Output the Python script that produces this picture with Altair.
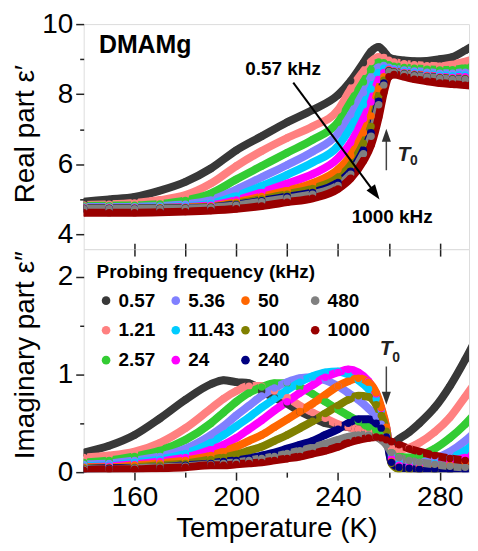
import altair as alt
import pandas as pd

FONT = "Liberation Sans"

# ---------------- data ----------------
FREQS = ["0.57", "1.21", "2.57", "5.36", "11.43", "24", "50", "100", "240", "480", "1000"]
COLORS = ["#383838", "#ff8080", "#33cc33", "#8080ff", "#00ccff", "#ff00ff",
          "#ff6600", "#808000", "#000080", "#808080", "#990000"]

T_REAL = [140, 150, 160, 170, 180, 190, 200, 210, 220, 230, 240, 245, 250, 253, 256,
          258, 260, 262, 266, 270, 275, 280, 285, 290, 295]

REAL_057 = [4.93, 5.00, 5.07, 5.25, 5.50, 5.88, 6.40, 6.80, 7.20, 7.55, 7.98, 8.38, 8.90, 9.22, 9.35,
            9.22, 9.05, 9.00, 8.96, 8.94, 8.95, 9.00, 9.06, 9.25, 9.46]
REAL_121 = [4.84, 4.86, 4.90, 4.98, 5.12, 5.45, 5.95, 6.38, 6.75, 7.08, 7.55, 8.15, 8.65, 8.93, 9.06,
            9.05, 8.97, 8.92, 8.87, 8.84, 8.81, 8.80, 8.85, 8.93, 9.04]
REAL_257 = [4.81, 4.82, 4.83, 4.87, 4.97, 5.17, 5.57, 5.95, 6.33, 6.70, 7.20, 7.78, 8.35, 8.70, 8.92,
            8.90, 8.84, 8.80, 8.76, 8.74, 8.71, 8.69, 8.70, 8.75, 8.80]
REAL_536 = [4.78, 4.78, 4.79, 4.81, 4.86, 4.98, 5.28, 5.63, 5.98, 6.36, 6.88, 7.42, 8.05, 8.48, 8.78,
            8.82, 8.77, 8.73, 8.69, 8.66, 8.63, 8.60, 8.60, 8.63, 8.66]
REAL_1143 = [4.77, 4.77, 4.77, 4.78, 4.81, 4.88, 5.10, 5.38, 5.70, 6.05, 6.52, 7.05, 7.70, 8.15, 8.62,
             8.74, 8.73, 8.69, 8.65, 8.61, 8.57, 8.54, 8.53, 8.55, 8.56]
REAL_24 = [4.76, 4.76, 4.76, 4.76, 4.78, 4.83, 4.98, 5.20, 5.45, 5.72, 6.17, 6.62, 7.30, 7.78, 8.42,
           8.62, 8.71, 8.67, 8.62, 8.58, 8.54, 8.50, 8.48, 8.50, 8.50]
REAL_50 = [4.75, 4.75, 4.75, 4.76, 4.77, 4.80, 4.92, 5.08, 5.25, 5.46, 5.85, 6.25, 6.90, 7.38, 8.15,
           8.50, 8.69, 8.65, 8.60, 8.56, 8.52, 8.48, 8.45, 8.45, 8.45]
REAL_100 = [4.75, 4.75, 4.75, 4.75, 4.76, 4.78, 4.88, 5.01, 5.15, 5.31, 5.62, 5.98, 6.60, 7.08, 7.95,
            8.40, 8.67, 8.64, 8.59, 8.55, 8.51, 8.47, 8.44, 8.44, 8.44]
REAL_240 = [4.74, 4.74, 4.74, 4.74, 4.75, 4.77, 4.85, 4.96, 5.08, 5.20, 5.48, 5.80, 6.40, 6.90, 7.80,
            8.32, 8.66, 8.63, 8.58, 8.54, 8.50, 8.46, 8.43, 8.43, 8.43]
REAL_480 = [4.73, 4.73, 4.73, 4.73, 4.74, 4.76, 4.83, 4.93, 5.03, 5.15, 5.40, 5.72, 6.30, 6.80, 7.70,
            8.26, 8.65, 8.62, 8.57, 8.53, 8.49, 8.45, 8.42, 8.42, 8.42]
REAL_1000 = [4.62, 4.62, 4.62, 4.63, 4.65, 4.68, 4.73, 4.81, 4.92, 5.03, 5.30, 5.60, 6.10, 6.55, 7.35,
             8.05, 8.50, 8.56, 8.50, 8.43, 8.37, 8.32, 8.29, 8.26, 8.22]

T_IMAG = [140, 150, 160, 170, 180, 190, 195, 200, 205, 210, 215, 220, 225, 230, 235, 240, 244, 248,
          252, 255, 257, 259, 261, 264, 268, 272, 278, 284, 290, 295]

IMAG_057 = [0.20, 0.27, 0.38, 0.55, 0.74, 0.90, 0.94, 0.92, 0.91, 0.83, 0.76, 0.70, 0.62, 0.56, 0.50,
            0.48, 0.46, 0.44, 0.42, 0.40, 0.37, 0.33, 0.29, 0.34, 0.41, 0.50, 0.66, 0.88, 1.15, 1.40]
IMAG_121 = [0.15, 0.17, 0.21, 0.30, 0.45, 0.65, 0.75, 0.83, 0.88, 0.88, 0.83, 0.76, 0.68, 0.61, 0.55,
            0.49, 0.46, 0.44, 0.42, 0.40, 0.37, 0.32, 0.25, 0.23, 0.25, 0.30, 0.41, 0.56, 0.77, 0.95]
IMAG_257 = [0.10, 0.12, 0.16, 0.22, 0.33, 0.50, 0.61, 0.72, 0.81, 0.87, 0.91, 0.91, 0.87, 0.80, 0.72,
            0.64, 0.58, 0.52, 0.46, 0.42, 0.40, 0.33, 0.20, 0.16, 0.15, 0.17, 0.24, 0.35, 0.49, 0.63]
IMAG_536 = [0.08, 0.09, 0.12, 0.16, 0.24, 0.38, 0.47, 0.58, 0.68, 0.78, 0.86, 0.92, 0.96, 0.97, 0.94,
            0.88, 0.81, 0.74, 0.65, 0.57, 0.49, 0.37, 0.18, 0.12, 0.10, 0.10, 0.14, 0.21, 0.32, 0.44]
IMAG_1143 = [0.06, 0.07, 0.10, 0.13, 0.19, 0.30, 0.38, 0.47, 0.56, 0.66, 0.75, 0.84, 0.92, 0.98, 1.02,
             1.03, 1.00, 0.94, 0.85, 0.75, 0.63, 0.45, 0.16, 0.09, 0.07, 0.07, 0.09, 0.14, 0.22, 0.33]
IMAG_24 = [0.05, 0.06, 0.08, 0.11, 0.15, 0.23, 0.28, 0.35, 0.44, 0.53, 0.63, 0.72, 0.81, 0.89, 0.97,
           1.02, 1.05, 1.02, 0.93, 0.80, 0.65, 0.45, 0.14, 0.07, 0.06, 0.06, 0.08, 0.11, 0.15, 0.20]
IMAG_50 = [0.05, 0.05, 0.07, 0.09, 0.12, 0.17, 0.21, 0.26, 0.32, 0.38, 0.46, 0.54, 0.62, 0.70, 0.79,
           0.88, 0.93, 0.96, 0.92, 0.81, 0.66, 0.46, 0.11, 0.05, 0.04, 0.04, 0.05, 0.07, 0.10, 0.13]
IMAG_100 = [0.04, 0.04, 0.05, 0.07, 0.09, 0.13, 0.15, 0.18, 0.22, 0.26, 0.32, 0.38, 0.45, 0.52, 0.60,
            0.68, 0.74, 0.78, 0.77, 0.69, 0.58, 0.42, 0.09, 0.03, 0.02, 0.02, 0.02, 0.03, 0.04, 0.05]
IMAG_240 = [0.03, 0.04, 0.04, 0.05, 0.07, 0.09, 0.11, 0.12, 0.14, 0.17, 0.20, 0.24, 0.28, 0.32, 0.38,
            0.44, 0.50, 0.54, 0.54, 0.50, 0.45, 0.36, 0.10, 0.05, 0.04, 0.03, 0.03, 0.02, 0.02, 0.02]
IMAG_480 = [0.03, 0.03, 0.04, 0.05, 0.06, 0.08, 0.09, 0.10, 0.12, 0.14, 0.16, 0.19, 0.22, 0.25, 0.29,
            0.33, 0.36, 0.38, 0.38, 0.36, 0.33, 0.28, 0.20, 0.15, 0.12, 0.10, 0.08, 0.06, 0.05, 0.05]
IMAG_1000 = [0.02, 0.03, 0.03, 0.04, 0.05, 0.07, 0.07, 0.08, 0.09, 0.10, 0.12, 0.14, 0.16, 0.19, 0.22,
             0.26, 0.30, 0.33, 0.35, 0.36, 0.35, 0.33, 0.31, 0.28, 0.24, 0.21, 0.17, 0.14, 0.12, 0.11]

REAL = [REAL_057, REAL_121, REAL_257, REAL_536, REAL_1143, REAL_24, REAL_50, REAL_100, REAL_240,
        REAL_480, REAL_1000]
IMAG = [IMAG_057, IMAG_121, IMAG_257, IMAG_536, IMAG_1143, IMAG_24, IMAG_50, IMAG_100, IMAG_240,
        IMAG_480, IMAG_1000]


def long_table(ts, series):
    rows = []
    for i, (f, vals) in enumerate(zip(FREQS, series)):
        for t, v in zip(ts, vals):
            rows.append({"T": t, "v": v, "freq": f, "Frequency": f, "k": i})
    return pd.DataFrame(rows)


df_real = long_table(T_REAL, REAL)
df_imag = long_table(T_IMAG, IMAG)

# ---------------- scales ----------------
xs = alt.Scale(domain=[140, 291.5], nice=False, zero=False)
ys_top = alt.Scale(domain=[3.58, 10], nice=False, zero=False)
ys_bot = alt.Scale(domain=[0, 2.28], nice=False, zero=False)
cs = alt.Scale(domain=FREQS, range=COLORS)

TICK = dict(tickColor="#222222", tickWidth=1.5, domain=False, grid=False)
LAB = dict(labelFont=FONT, labelFontSize=28, labelColor="black")
TTL = dict(titleFont=FONT, titleFontSize=28, titleColor="black", titleFontWeight="normal")

W, H1, H2 = 387, 226, 224
ARROW = "M0,-1L0.7,1L-0.7,1Z"


def XN():
    return alt.X("T:Q", scale=xs, axis=None)


# ---------------- top panel ----------------
top_lines = alt.Chart(df_real).mark_line(strokeWidth=8, interpolate="monotone", clip=True,
                                          strokeCap="round").encode(
    x=alt.X("T:Q", scale=xs, axis=alt.Axis(orient="bottom", values=list(range(160, 281, 20)),
                                            labels=False, tickSize=7, title=None, **TICK)),
    y=alt.Y("v:Q", scale=ys_top, axis=alt.Axis(orient="left", values=[4, 6, 8, 10], tickSize=8,
                                                labelPadding=3, labelFlush=False,
                                                title="Real part ε′",
                                                titleX=-50, titleY=110, titleBaseline="alphabetic",
                                                titleAngle=270, titleAlign="center",
                                                **TICK, **LAB, **TTL)),
    stroke=alt.Stroke("freq:N", scale=cs, legend=None),
    detail="k:N",
)
top_pts = alt.Chart(df_real).mark_circle(size=55, opacity=1, clip=True).encode(
    x=XN(),
    y=alt.Y("v:Q", scale=ys_top, axis=alt.Axis(orient="left", values=[5, 7, 9], tickSize=4,
                                                labels=False, title=None, **TICK)),
    fill=alt.Fill("freq:N", scale=cs, legend=None),
)

top_text_df = pd.DataFrame({
    "T": [146, 203.5, 245.4],
    "v": [9.18, 8.56, 4.32],
    "s": ["DMAMg", "0.57 kHz", "1000 kHz"],
    "fs": [25, 19, 19],
})
top_text = alt.Chart(top_text_df).mark_text(font=FONT, fontWeight="bold", align="left",
                                             baseline="alphabetic", color="black").encode(
    x=XN(),
    y=alt.Y("v:Q", scale=ys_top, axis=None),
    text="s:N",
    size=alt.Size("fs:Q", scale=None, legend=None),
)
top_T = alt.Chart(pd.DataFrame({"T": [263.4], "v": [6.08], "s": ["T"]})).mark_text(
    font=FONT, fontWeight="bold", fontStyle="italic", fontSize=21, align="left",
    baseline="alphabetic", color="#222222").encode(
    x=XN(), y=alt.Y("v:Q", scale=ys_top, axis=None), text="s:N")
top_0 = alt.Chart(pd.DataFrame({"T": [268.3], "v": [5.97], "s": ["0"]})).mark_text(
    font=FONT, fontWeight="bold", fontSize=14, align="left", baseline="alphabetic",
    color="#222222").encode(
    x=XN(), y=alt.Y("v:Q", scale=ys_top, axis=None), text="s:N")

diag_line = alt.Chart(pd.DataFrame({"T": [222.4], "v": [8.33], "T2": [254.6], "v2": [5.17]})).mark_rule(
    color="black", strokeWidth=2).encode(
    x=XN(), y=alt.Y("v:Q", scale=ys_top, axis=None), x2="T2:Q", y2="v2:Q")
diag_head = alt.Chart(pd.DataFrame({"T": [254.6], "v": [5.17]})).mark_point(
    shape=ARROW, filled=True, size=225, angle=144, color="black", opacity=1).encode(
    x=XN(), y=alt.Y("v:Q", scale=ys_top, axis=None))
t0_line_top = alt.Chart(pd.DataFrame({"T": [259], "v": [5.83], "v2": [6.83]})).mark_rule(
    color="#444444", strokeWidth=1.5).encode(
    x=XN(), y=alt.Y("v:Q", scale=ys_top, axis=None), y2="v2:Q")
t0_head_top = alt.Chart(pd.DataFrame({"T": [259], "v": [6.83]})).mark_point(
    shape=ARROW, filled=True, size=169, angle=0, color="#333333", opacity=1).encode(
    x=XN(), y=alt.Y("v:Q", scale=ys_top, axis=None))

top = alt.layer(top_lines, top_pts, top_text, top_T, top_0, diag_line, diag_head,
                t0_line_top, t0_head_top).resolve_axis(x="independent", y="independent").properties(
    width=W, height=H1)

# ---------------- bottom panel ----------------
bot_lines = alt.Chart(df_imag).mark_line(strokeWidth=8, interpolate="monotone", clip=True,
                                          strokeCap="round").encode(
    x=alt.X("T:Q", scale=xs, axis=alt.Axis(orient="bottom", values=[160, 200, 240, 280],
                                            tickSize=8, labelPadding=3, labelFlush=False,
                                            title="Temperature (K)", titleY=65,
                                            titleBaseline="alphabetic",
                                            **TICK, **LAB, **TTL)),
    y=alt.Y("v:Q", scale=ys_bot, axis=alt.Axis(orient="left", values=[0, 1, 2], tickSize=8,
                                                labelPadding=3, labelFlush=False,
                                                title="Imaginary part ε″",
                                                titleX=-50, titleY=106, titleBaseline="alphabetic",
                                                titleAngle=270, titleAlign="center",
                                                **TICK, **LAB, **TTL)),
    stroke=alt.Stroke("freq:N", scale=cs, legend=None),
    detail="k:N",
)
bot_pts = alt.Chart(df_imag).mark_circle(size=55, opacity=1, clip=True).encode(
    x=alt.X("T:Q", scale=xs, axis=alt.Axis(orient="bottom", values=[180, 220, 260], tickSize=5,
                                            labels=False, title=None, **TICK)),
    y=alt.Y("v:Q", scale=ys_bot, axis=alt.Axis(orient="left", values=[0.5, 1.5], tickSize=4,
                                                labels=False, title=None, **TICK)),
    color=alt.Color("Frequency:N", sort=FREQS, scale=alt.Scale(range=COLORS),
                    legend=alt.Legend(
        title="Probing frequency (kHz)", orient="none", legendX=13, legendY=240, columns=4,
        symbolType="circle", symbolSize=75, symbolStrokeWidth=0, symbolOpacity=1,
        labelFont=FONT, labelFontSize=19, labelFontWeight="bold", labelColor="black",
        titleFont=FONT, titleFontSize=19, titleFontWeight="bold", titleColor="black",
        titleLimit=400, labelLimit=100,
        titlePadding=9, rowPadding=10, columnPadding=1, gridAlign="all", labelOffset=3,
        padding=0)),
)
bot_T = alt.Chart(pd.DataFrame({"T": [256.4], "v": [1.2], "s": ["T"]})).mark_text(
    font=FONT, fontWeight="bold", fontStyle="italic", fontSize=21, align="left",
    baseline="alphabetic", color="#222222").encode(
    x=alt.X("T:Q", scale=xs, axis=alt.Axis(orient="top", values=list(range(160, 281, 20)),
                                            labels=False, tickSize=6, title=None, **TICK)),
    y=alt.Y("v:Q", scale=ys_bot, axis=None), text="s:N")
bot_0 = alt.Chart(pd.DataFrame({"T": [261.3], "v": [1.13], "s": ["0"]})).mark_text(
    font=FONT, fontWeight="bold", fontSize=14, align="left", baseline="alphabetic",
    color="#222222").encode(
    x=XN(), y=alt.Y("v:Q", scale=ys_bot, axis=None), text="s:N")
t0_line_bot = alt.Chart(pd.DataFrame({"T": [259], "v": [1.08], "v2": [0.756]})).mark_rule(
    color="#444444", strokeWidth=1.5).encode(
    x=XN(), y=alt.Y("v:Q", scale=ys_bot, axis=None), y2="v2:Q")
t0_head_bot = alt.Chart(pd.DataFrame({"T": [259], "v": [0.756]})).mark_point(
    shape=ARROW, filled=True, size=169, angle=180, color="#333333", opacity=1).encode(
    x=XN(), y=alt.Y("v:Q", scale=ys_bot, axis=None))

bottom = alt.layer(bot_lines, bot_pts, bot_T, bot_0, t0_line_bot, t0_head_bot).resolve_axis(
    x="independent", y="independent").properties(width=W, height=H2)

chart = alt.vconcat(top, bottom, spacing=0, bounds="flush").properties(
    padding={"left": 3, "top": 0, "right": 0, "bottom": 0}
).configure_view(stroke="#222222", strokeWidth=1.5).configure(background="white")

chart.save("out.html", embed_options={"renderer": "svg", "actions": False})
